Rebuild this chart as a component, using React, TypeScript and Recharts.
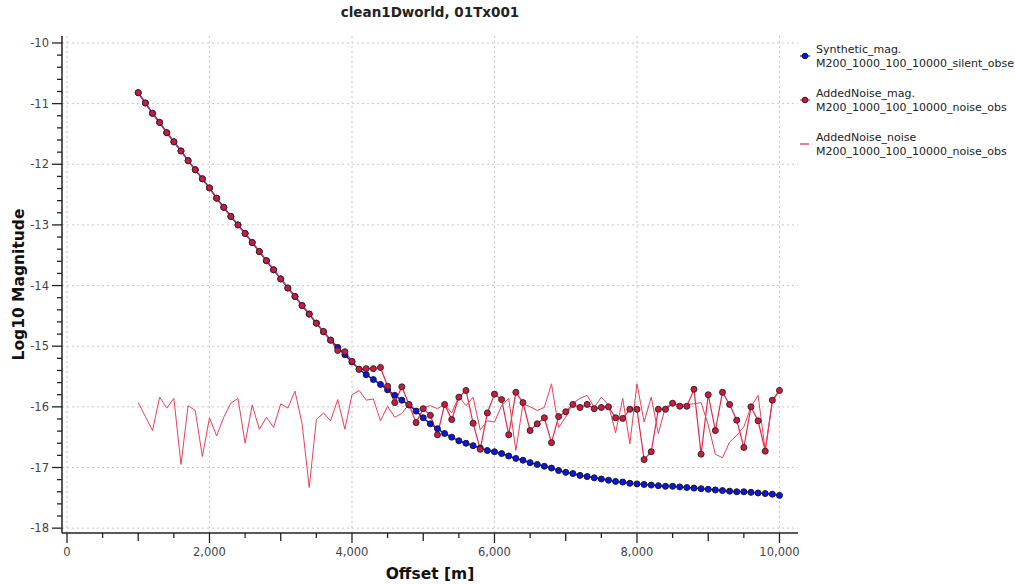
import { ComposedChart, Label, Line, ReferenceLine, XAxis, YAxis } from 'recharts'

// offsets [m], one sample every 100 m
const offsets = [
  1000, 1100, 1200, 1300, 1400, 1500, 1600, 1700, 1800, 1900,
  2000, 2100, 2200, 2300, 2400, 2500, 2600, 2700, 2800, 2900,
  3000, 3100, 3200, 3300, 3400, 3500, 3600, 3700, 3800, 3900,
  4000, 4100, 4200, 4300, 4400, 4500, 4600, 4700, 4800, 4900,
  5000, 5100, 5200, 5300, 5400, 5500, 5600, 5700, 5800, 5900,
  6000, 6100, 6200, 6300, 6400, 6500, 6600, 6700, 6800, 6900,
  7000, 7100, 7200, 7300, 7400, 7500, 7600, 7700, 7800, 7900,
  8000, 8100, 8200, 8300, 8400, 8500, 8600, 8700, 8800, 8900,
  9000, 9100, 9200, 9300, 9400, 9500, 9600, 9700, 9800, 9900,
  10000,
]

const syntheticMag = [
  -10.82, -10.99, -11.16, -11.31, -11.48, -11.63, -11.78, -11.94, -12.09, -12.24,
  -12.39, -12.56, -12.71, -12.86, -13.0, -13.14, -13.29, -13.44, -13.59, -13.74,
  -13.89, -14.04, -14.18, -14.33, -14.47, -14.62, -14.76, -14.9, -15.02, -15.14,
  -15.26, -15.38, -15.47, -15.55, -15.63, -15.72, -15.81, -15.89, -15.97, -16.07,
  -16.18, -16.28, -16.36, -16.44, -16.5, -16.56, -16.6, -16.64, -16.68, -16.72,
  -16.74, -16.77, -16.81, -16.85, -16.88, -16.92, -16.95, -16.98, -17.01, -17.05,
  -17.08, -17.1, -17.13, -17.15, -17.17, -17.19, -17.21, -17.23, -17.24, -17.26,
  -17.27, -17.28, -17.29, -17.3, -17.31, -17.31, -17.32, -17.33, -17.34, -17.35,
  -17.36, -17.37, -17.38, -17.39, -17.4, -17.4, -17.41, -17.42, -17.43, -17.44,
  -17.46,
]

const addedNoiseMag = [
  -10.82, -10.99, -11.16, -11.31, -11.48, -11.63, -11.78, -11.94, -12.09, -12.24,
  -12.39, -12.56, -12.71, -12.86, -13.0, -13.14, -13.29, -13.44, -13.59, -13.74,
  -13.89, -14.04, -14.18, -14.33, -14.47, -14.62, -14.76, -14.9, -15.07, -15.09,
  -15.25, -15.38, -15.37, -15.37, -15.35, -15.66, -15.93, -15.67, -15.96, -16.26,
  -16.03, -16.14, -16.46, -15.96, -16.21, -15.84, -15.73, -16.27, -16.7, -16.1,
  -15.79, -15.88, -16.46, -15.76, -15.93, -16.39, -16.28, -16.18, -16.59, -16.16,
  -16.08, -15.96, -16.01, -15.96, -16.03, -16.01, -16.0, -16.18, -16.19, -16.04,
  -16.04, -16.87, -16.74, -16.04, -16.04, -15.94, -15.99, -15.99, -15.71, -16.78,
  -15.8, -16.39, -15.76, -15.96, -16.22, -16.67, -16.0, -16.23, -16.73, -15.89,
  -15.73,
]

const addedNoise = [
  -15.93, -16.16, -16.39, -15.84, -16.02, -15.86, -16.95, -15.98, -16.06, -16.82,
  -16.18, -16.48, -16.17, -15.94, -15.86, -16.6, -15.97, -16.37, -16.17, -16.34,
  -15.95, -16.02, -15.74, -16.28, -17.33, -16.21, -16.1, -16.23, -15.88, -16.37,
  -15.8, -15.73, -15.89, -15.87, -16.23, -15.99, -16.17, -16.11, -15.95, -16.05,
  -16.02, -15.98, -16.03, -15.96, -16.1, -15.83, -15.98, -15.84, -16.38, -16.23,
  -16.25, -15.98, -15.86, -16.72, -15.95, -16.0, -16.06, -16.01, -15.62, -16.34,
  -16.17, -15.94, -15.86, -15.81, -16.01, -15.84, -15.97, -16.43, -15.86, -16.61,
  -15.62, -16.25, -15.84, -16.44, -16.0, -15.96, -15.97, -15.96, -15.95, -15.93,
  -16.3, -16.78, -16.84, -16.58, -16.47, -16.33, -16.0, -15.81, -16.72, -15.92,
  -15.73,
]

const seriesNames = ['Synthetic_mag.', 'AddedNoise_mag.', 'AddedNoise_noise']
const seriesSources = [
  'M200_1000_100_10000_silent_obse',
  'M200_1000_100_10000_noise_obs',
  'M200_1000_100_10000_noise_obs',
]

// labelled ticks (and grid) every 2000 m / every decade; minor ticks every 500 m / 0.2
const xTicks = [0, 2000, 4000, 6000, 8000, 10000]
const xMinorTicks = [
  0, 500, 1000, 1500, 2000, 2500, 3000, 3500, 4000, 4500, 5000,
  5500, 6000, 6500, 7000, 7500, 8000, 8500, 9000, 9500, 10000,
]
const yTicks = [-18, -17, -16, -15, -14, -13, -12, -11, -10]
const yMinorTicks = yTicks.flatMap((t, i) =>
  i < yTicks.length - 1 ? [t, t + 0.2, t + 0.4, t + 0.6, t + 0.8] : [t],
)

const xDomain = [-70, 10260]
const yDomain = [-18.08, -9.885]

const rows = offsets.map((offset, i) => ({
  offset,
  synthetic: syntheticMag[i],
  noisy: addedNoiseMag[i],
  noise: addedNoise[i],
}))

const axisColor = '#222'
const labelColor = '#444'
const gridStyle = { stroke: '#c8c8c8', strokeDasharray: '2 3', strokeWidth: 1 }

function XTick({ x, y, payload }: any) {
  const v = payload.value as number
  const major = xTicks.includes(v)
  const len = major ? 10 : v % 1000 === 0 ? 8 : 5
  return (
    <g>
      <line x1={x} y1={y} x2={x} y2={y + len} stroke={axisColor} strokeWidth={1.3} />
      {major && (
        <text x={x} y={y + len + 4} dy="0.75em" textAnchor="middle" fill={labelColor} fontSize={11.5}>
          {v.toLocaleString('en-US')}
        </text>
      )}
    </g>
  )
}

function YTick({ x, y, payload }: any) {
  const v = payload.value as number
  const major = Number.isInteger(v)
  const len = major ? 10 : 5
  return (
    <g>
      <line x1={x - len} y1={y} x2={x} y2={y} stroke={axisColor} strokeWidth={1.3} />
      {major && (
        <text x={x - len - 3} y={y} dy="0.36em" textAnchor="end" fill={labelColor} fontSize={11.5}>
          {v}
        </text>
      )}
    </g>
  )
}

function LegendMark({ kind }: { kind: number }) {
  if (kind === 2) {
    return (
      <svg width={14} height={14}>
        <line x1={2} y1={7} x2={11} y2={7} stroke="#e0284a" strokeWidth={1.2} />
      </svg>
    )
  }
  const fill = kind === 0 ? '#0a14e6' : '#d4163c'
  return (
    <svg width={14} height={14}>
      <line x1={2} y1={7} x2={12} y2={7} stroke={kind === 0 ? '#1010e0' : '#e0284a'} strokeWidth={1.2} />
      <circle cx={7} cy={7} r={2.8} fill={fill} stroke="#1a1a1a" strokeWidth={1} />
    </svg>
  )
}

export default function App() {
  return (
    <div
      style={{
        position: 'absolute',
        left: 0,
        top: 0,
        width: 1015,
        height: 584,
        background: '#fff',
        fontFamily: '"DejaVu Sans", sans-serif',
        overflow: 'hidden',
      }}
    >
      <div
        style={{
          position: 'absolute',
          left: 230,
          width: 400,
          top: 4,
          textAlign: 'center',
          fontWeight: 'bold',
          fontSize: 13.5,
          color: '#222',
        }}
      >
        clean1Dworld, 01Tx001
      </div>

      <ComposedChart width={1015} height={584} data={rows} margin={{ top: 36, right: 217, bottom: 0, left: 0 }}>
        {/* frame: top and right sides */}
        <XAxis xAxisId="xTop" orientation="top" type="number" domain={xDomain} allowDataOverflow
          height={0} tick={false} tickLine={false} axisLine={{ stroke: '#666', strokeWidth: 2 }} />
        <YAxis yAxisId="yRight" orientation="right" type="number" domain={yDomain} allowDataOverflow
          width={0} tick={false} tickLine={false} axisLine={{ stroke: '#333', strokeWidth: 2 }} />

        <XAxis
          xAxisId="x"
          dataKey="offset"
          type="number"
          domain={xDomain}
          allowDataOverflow
          ticks={xMinorTicks}
          interval={0}
          height={51}
          tickSize={0}
          tickMargin={0}
          tickLine={false}
          tick={<XTick />}
          axisLine={{ stroke: axisColor, strokeWidth: 1.5 }}
        >
          <Label value="Offset [m]" position="insideBottom" offset={5}
            style={{ fontWeight: 'bold', fontSize: 15.5, fill: '#111' }} />
        </XAxis>
        <YAxis
          yAxisId="y"
          type="number"
          domain={yDomain}
          allowDataOverflow
          ticks={yMinorTicks}
          interval={0}
          width={62}
          tickSize={0}
          tickMargin={0}
          tickLine={false}
          tick={<YTick />}
          axisLine={{ stroke: axisColor, strokeWidth: 1.5 }}
        >
          <Label value="Log10 Magnitude" angle={-90} position="insideLeft" offset={18}
            style={{ textAnchor: 'middle', fontWeight: 'bold', fontSize: 15.5, fill: '#111' }} />
        </YAxis>

        {/* dotted grid at the labelled ticks */}
        {xTicks.map((t) => (
          <ReferenceLine key={`gx${t}`} xAxisId="x" yAxisId="y" x={t} {...gridStyle} />
        ))}
        {yTicks.map((t) => (
          <ReferenceLine key={`gy${t}`} xAxisId="x" yAxisId="y" y={t} {...gridStyle} />
        ))}

        <Line xAxisId="x" yAxisId="y" dataKey="synthetic" name={seriesNames[0]} type="linear"
          stroke="#1010e0" strokeWidth={1.5} activeDot={false} isAnimationActive={false}
          dot={{ r: 3, fill: '#0a14e6', stroke: '#1a1a1a', strokeWidth: 1 }} />
        <Line xAxisId="x" yAxisId="y" dataKey="noisy" name={seriesNames[1]} type="linear"
          stroke="#e0284a" strokeWidth={1.2} activeDot={false} isAnimationActive={false}
          dot={{ r: 3, fill: '#d4163c', stroke: '#2a2a2a', strokeWidth: 1 }} />
        <Line xAxisId="x" yAxisId="y" dataKey="noise" name={seriesNames[2]} type="linear"
          stroke="#e8405a" strokeWidth={1} dot={false} activeDot={false} isAnimationActive={false} />
      </ComposedChart>

      <div style={{ position: 'absolute', left: 798, top: 0, fontSize: 11, color: '#222' }}>
        {seriesNames.map((name, i) => (
          <div key={name} style={{ position: 'absolute', top: 43 + i * 44, left: 0, width: 230 }}>
            <div style={{ position: 'absolute', left: 0, top: 6 }}>
              <LegendMark kind={i} />
            </div>
            <div style={{ position: 'absolute', left: 18, top: 0, lineHeight: '13.5px', whiteSpace: 'nowrap' }}>
              <div>{name}</div>
              <div>{seriesSources[i]}</div>
            </div>
          </div>
        ))}
      </div>
    </div>
  )
}
